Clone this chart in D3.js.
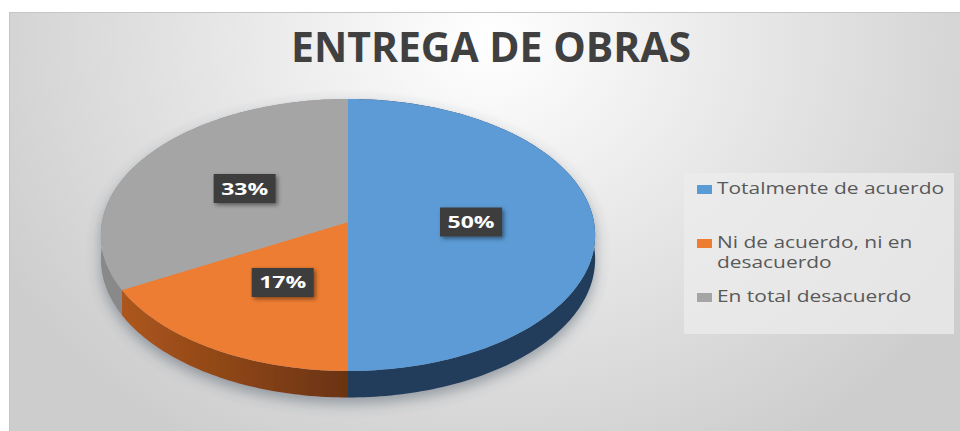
<!DOCTYPE html>
<html>
<head>
<meta charset="utf-8">
<script src="https://cdn.jsdelivr.net/npm/d3@7"></script>
<style>
  body { margin: 0; background: #fff; }
  svg { display: block; }
</style>
</head>
<body>
<svg width="960" height="431"></svg>
<script>
// datos del grafico
const title = "ENTREGA DE OBRAS";
const categories = ["Totalmente de acuerdo", "Ni de acuerdo, ni en desacuerdo", "En total desacuerdo"];
const values = [50, 17, 33];

const svg = d3.select("svg");
const width = +svg.attr("width");
const height = +svg.attr("height");

const color = d3.scaleOrdinal().domain(categories).range(["#5b9bd5", "#ed7d31", "#a5a5a5"]);
const sideColor = d3.scaleOrdinal().domain(categories).range(["#213d5b", "url(#gOrange)", "#898989"]);

const defs = svg.append("defs");

const bg = defs.append("radialGradient").attr("id", "gBg")
  .attr("gradientUnits", "userSpaceOnUse")
  .attr("cx", 490).attr("cy", 40).attr("r", 560)
  .attr("gradientTransform", "translate(490 40) scale(1 0.85) translate(-490 -40)");
bg.append("stop").attr("offset", "0").attr("stop-color", "#ffffff");
bg.append("stop").attr("offset", "0.45").attr("stop-color", "#e8e8e8");
bg.append("stop").attr("offset", "1").attr("stop-color", "#cdcdcd");

const go = defs.append("linearGradient").attr("id", "gOrange")
  .attr("gradientUnits", "userSpaceOnUse")
  .attr("x1", 110).attr("x2", 348).attr("y1", 0).attr("y2", 0);
go.append("stop").attr("offset", "0").attr("stop-color", "#b0581d");
go.append("stop").attr("offset", "1").attr("stop-color", "#6a3311");

const fPie = defs.append("filter").attr("id", "fPie")
  .attr("x", "-20%").attr("y", "-20%").attr("width", "140%").attr("height", "150%");
fPie.append("feDropShadow").attr("dx", 0).attr("dy", 6).attr("stdDeviation", 7)
  .attr("flood-color", "#3a4a5a").attr("flood-opacity", 0.45);

const fLbl = defs.append("filter").attr("id", "fLbl")
  .attr("x", "-30%").attr("y", "-30%").attr("width", "160%").attr("height", "170%");
fLbl.append("feDropShadow").attr("dx", 2).attr("dy", 2).attr("stdDeviation", 2)
  .attr("flood-color", "#000").attr("flood-opacity", 0.45);

// fondo del area del grafico
svg.append("rect")
  .attr("x", 9.5).attr("y", 12.5)
  .attr("width", width).attr("height", height)
  .attr("fill", "url(#gBg)")
  .attr("stroke", "#c6c6c6");

// titulo (texto estirado como en la imagen)
const t = svg.append("text")
  .attr("x", 491).attr("y", 62)
  .attr("text-anchor", "middle")
  .attr("font-family", "'Open Sans', sans-serif")
  .attr("font-weight", 700)
  .attr("font-size", 42)
  .attr("fill", "#404040")
  .text(title);
t.attr("textLength", 400).attr("lengthAdjust", "spacingAndGlyphs");

// proyeccion del pastel 3D con perspectiva
const cx = 348, R = 246;
const A = 222, B = 113.5, C = -0.0956, D = 24;
function proj(a, r, dz) {
  const u = r * Math.sin(a), v = -r * Math.cos(a);
  const k = 1 + C * v;
  return [cx + R * u / k, (A + B * v + D * dz) / k];
}
function arcPts(a0, a1, dz) {
  const n = Math.max(2, Math.ceil((a1 - a0) / 0.02));
  return d3.range(n + 1).map(i => proj(a0 + (a1 - a0) * i / n, 1, dz));
}

const pie = d3.pie().sort(null).value(d => d.value);
const arcs = pie(categories.map((c, i) => ({ name: c, value: values[i] })));
const line = d3.line();

const gPie = svg.append("g").attr("filter", "url(#fPie)");

// laterales
gPie.selectAll("path.side")
  .data(arcs)
  .enter()
  .append("path")
  .attr("class", "side")
  .attr("d", d => {
    const top = arcPts(d.startAngle, d.endAngle, 0);
    const bot = arcPts(d.startAngle, d.endAngle, 1).reverse();
    return line(top.concat(bot)) + "Z";
  })
  .attr("fill", d => sideColor(d.data.name));

// caras superiores
gPie.selectAll("path.top")
  .data(arcs)
  .enter()
  .append("path")
  .attr("class", "top")
  .attr("d", d => line([proj(0, 0, 0)].concat(arcPts(d.startAngle, d.endAngle, 0))) + "Z")
  .attr("fill", d => color(d.data.name));

// etiquetas de porcentaje
const fmt = d => d3.format(".0%")(d.value / d3.sum(values));
const lbl = svg.selectAll("g.lbl")
  .data(arcs)
  .enter()
  .append("g")
  .attr("class", "lbl")
  .attr("transform", d => {
    const p = proj((d.startAngle + d.endAngle) / 2, 0.5, 0);
    return `translate(${p[0]},${p[1]})`;
  });
lbl.append("rect")
  .attr("x", -31).attr("y", -14.5)
  .attr("width", 62).attr("height", 29)
  .attr("fill", "#3d3d3d")
  .attr("filter", "url(#fLbl)");
lbl.append("text")
  .attr("text-anchor", "middle")
  .attr("y", 6)
  .attr("font-family", "'Open Sans', sans-serif")
  .attr("font-weight", 700)
  .attr("font-size", 16)
  .attr("fill", "#fff")
  .attr("textLength", 47)
  .attr("lengthAdjust", "spacingAndGlyphs")
  .text(fmt);

// leyenda
svg.append("rect")
  .attr("x", 684).attr("y", 173)
  .attr("width", 270).attr("height", 161)
  .attr("fill", "#ececec")
  .attr("opacity", 0.75);

function wrap(s, max) {
  const out = [];
  let cur = "";
  s.split(" ").forEach(w => {
    if (cur && (cur + " " + w).length > max) { out.push(cur); cur = w; }
    else cur = cur ? cur + " " + w : w;
  });
  out.push(cur);
  return out;
}

const legendY = d3.scalePoint().domain(categories).range([194, 302]);
const itemY = c => c === categories[1] ? 248 : legendY(c);

const lg = svg.selectAll("g.leg")
  .data(categories)
  .enter()
  .append("g")
  .attr("class", "leg")
  .attr("transform", d => `translate(697,${itemY(d)})`);
lg.append("rect")
  .attr("x", 0).attr("y", -9)
  .attr("width", 15).attr("height", 9)
  .attr("fill", d => color(d));

const legText = lg.append("text")
  .attr("x", 20)
  .attr("font-family", "'Open Sans', sans-serif")
  .attr("font-size", 16)
  .attr("fill", "#595959");
legText.selectAll("tspan")
  .data(d => wrap(d, 21))
  .enter()
  .append("tspan")
  .attr("x", 20)
  .attr("dy", (d, i) => i ? 20 : 0)
  .text(d => d);

// estirar el texto de la leyenda como en la imagen
const first = legText.select("tspan").node();
const sx = 227 / first.getComputedTextLength();
legText.selectAll("tspan").each(function () {
  const n = this.getComputedTextLength();
  d3.select(this).attr("textLength", n * sx).attr("lengthAdjust", "spacingAndGlyphs");
});
</script>
</body>
</html>
